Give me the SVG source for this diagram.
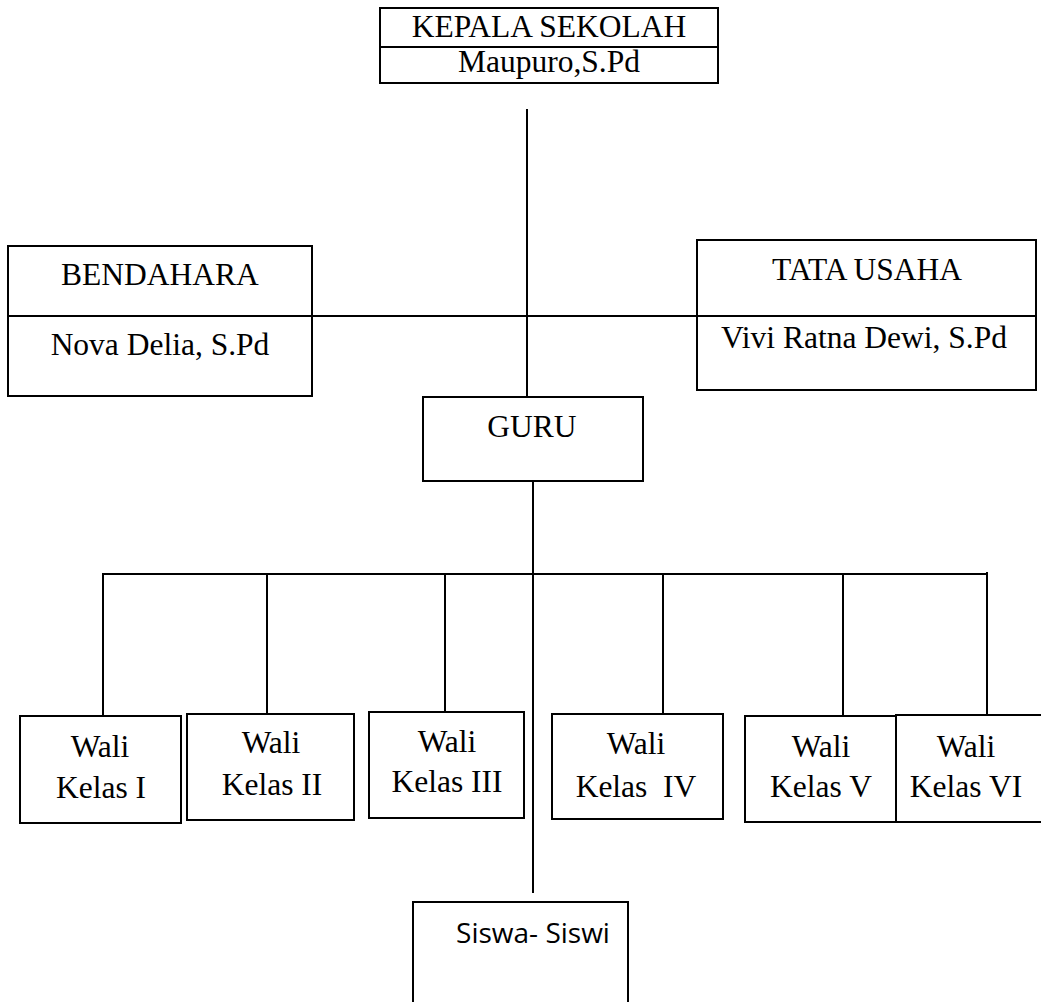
<svg xmlns="http://www.w3.org/2000/svg" width="1041" height="1002" viewBox="0 0 1041 1002">
<style>
.box{fill:#fff;stroke:#000;stroke-width:2}
.ln{stroke:#000;stroke-width:2;fill:none}
.t{font-family:'Liberation Serif','Times New Roman',serif;font-size:31.5px;fill:#000;text-anchor:middle}
.s{font-family:'Open Sans','Liberation Sans',sans-serif;font-size:28px;fill:#000;text-anchor:middle}
</style>
<rect width="1041" height="1002" fill="#fff"/>
<g id="connectors">
<line class="ln" x1="527" y1="109" x2="527" y2="397"/>
<line class="ln" x1="312" y1="316" x2="697" y2="316"/>
<line class="ln" x1="533" y1="481" x2="533" y2="893"/>
<line class="ln" x1="102" y1="574" x2="988" y2="574"/>
<line class="ln" x1="103" y1="573" x2="103" y2="716"/>
<line class="ln" x1="267" y1="574" x2="267" y2="714"/>
<line class="ln" x1="445" y1="574" x2="445" y2="712"/>
<line class="ln" x1="663" y1="574" x2="663" y2="714"/>
<line class="ln" x1="843" y1="574" x2="843" y2="716"/>
<line class="ln" x1="987" y1="572" x2="987" y2="715"/>
</g>
<g id="kepala">
<rect class="box" x="380" y="8" width="338" height="75"/>
<line class="ln" x1="380" y1="47" x2="718" y2="47"/>
<text class="t" x="549" y="37">KEPALA SEKOLAH</text>
<text class="t" x="549" y="72">Maupuro,S.Pd</text>
</g>
<g id="bendahara">
<rect class="box" x="8" y="246" width="304" height="150"/>
<line class="ln" x1="8" y1="316" x2="312" y2="316"/>
<text class="t" x="160" y="285">BENDAHARA</text>
<text class="t" x="160" y="355">Nova Delia, S.Pd</text>
</g>
<g id="tatausaha">
<rect class="box" x="697" y="240" width="339" height="150"/>
<line class="ln" x1="697" y1="316" x2="1036" y2="316"/>
<text class="t" x="867" y="280">TATA USAHA</text>
<text class="t" x="864" y="348">Vivi Ratna Dewi, S.Pd</text>
</g>
<g id="guru">
<rect class="box" x="423" y="397" width="220" height="84"/>
<text class="t" x="532" y="437">GURU</text>
</g>
<g id="wali1">
<rect class="box" x="20" y="716" width="161" height="107"/>
<text class="t" x="100" y="757">Wali</text>
<text class="t" x="101" y="798">Kelas I</text>
</g>
<g id="wali2">
<rect class="box" x="187" y="714" width="167" height="106"/>
<text class="t" x="271" y="753">Wali</text>
<text class="t" x="272" y="795">Kelas II</text>
</g>
<g id="wali3">
<rect class="box" x="369" y="712" width="155" height="106"/>
<text class="t" x="447" y="752">Wali</text>
<text class="t" x="447" y="792">Kelas III</text>
</g>
<g id="wali4">
<rect class="box" x="552" y="714" width="171" height="105"/>
<text class="t" x="636" y="754">Wali</text>
<text class="t" x="636" y="797" xml:space="preserve">Kelas  IV</text>
</g>
<g id="wali5">
<rect class="box" x="745" y="716" width="151" height="106"/>
<text class="t" x="821" y="757">Wali</text>
<text class="t" x="821" y="797">Kelas V</text>
</g>
<g id="wali6">
<rect class="box" x="896" y="715" width="150" height="107"/>
<text class="t" x="966" y="757">Wali</text>
<text class="t" x="966" y="797">Kelas VI</text>
</g>
<g id="siswa">
<rect class="box" x="413" y="902" width="215" height="110"/>
<text class="s" x="533" y="943">Siswa- Siswi</text>
</g>
</svg>
